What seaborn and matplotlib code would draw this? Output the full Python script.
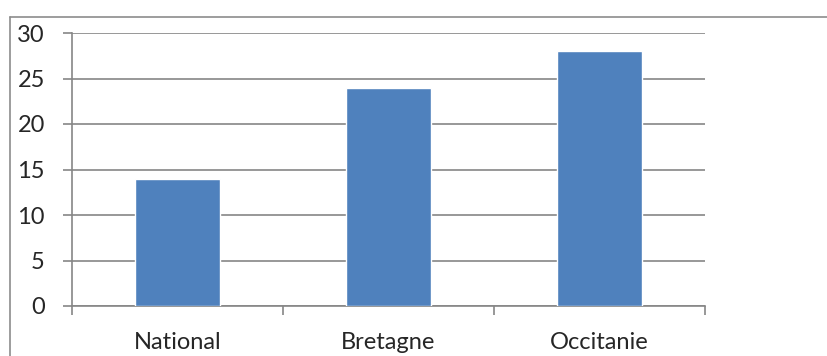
import numpy as np
import pandas as pd
import matplotlib
matplotlib.use('Agg')
import matplotlib.pyplot as plt
from matplotlib.lines import Line2D
import seaborn as sns

# data
regions = ['National', 'Bretagne', 'Occitanie']
values = [14, 24, 28]
yticks = [0, 5, 10, 15, 20, 25, 30]

df = pd.DataFrame({'region': regions, 'value': values})

sns.set_style('white')
plt.rcParams['font.family'] = ['Lato', 'DejaVu Sans']

fig = plt.figure(figsize=(8.28, 3.56), dpi=100)
ax = fig.add_axes([72 / 828, 1 - 306 / 356, (705 - 72) / 828, (306 - 33) / 356])

sns.barplot(data=df, x='region', y='value', color='#4F81BD', saturation=1,
            width=0.4, ax=ax, zorder=3)

grid_col = '#868686'
ax.set_ylim(0, 30)
ax.set_xlim(-0.5, 2.5)
ax.set_yticks(yticks)
ax.set_yticklabels([str(t) for t in yticks], fontsize=17)
ax.yaxis.grid(True, color=grid_col, linewidth=1.2, zorder=0)
ax.set_axisbelow(True)
ax.set_xlabel('')
ax.set_ylabel('')

for side in ['top', 'right']:
    ax.spines[side].set_visible(False)
for side in ['left', 'bottom']:
    ax.spines[side].set_color(grid_col)
    ax.spines[side].set_linewidth(1.2)

ax.tick_params(axis='y', direction='out', length=6.5, width=1.2, color=grid_col, pad=13, left=True)
ax.tick_params(axis='x', which='major', length=0, pad=19, labelsize=17)
ax.set_xticks([-0.5, 0.5, 1.5, 2.5], minor=True)
ax.tick_params(axis='x', which='minor', direction='out', length=6.5, width=1.2, color=grid_col, bottom=True)

# outer chart frame
fx = 9.5 / 828
fy = 1 - 16.5 / 356
fig.add_artist(Line2D([fx, fx], [0, fy], transform=fig.transFigure, color='#8c8c8c', linewidth=1.2))
fig.add_artist(Line2D([fx, 1], [fy, fy], transform=fig.transFigure, color='#8c8c8c', linewidth=1.2))

fig.savefig('out.png', dpi=100)
